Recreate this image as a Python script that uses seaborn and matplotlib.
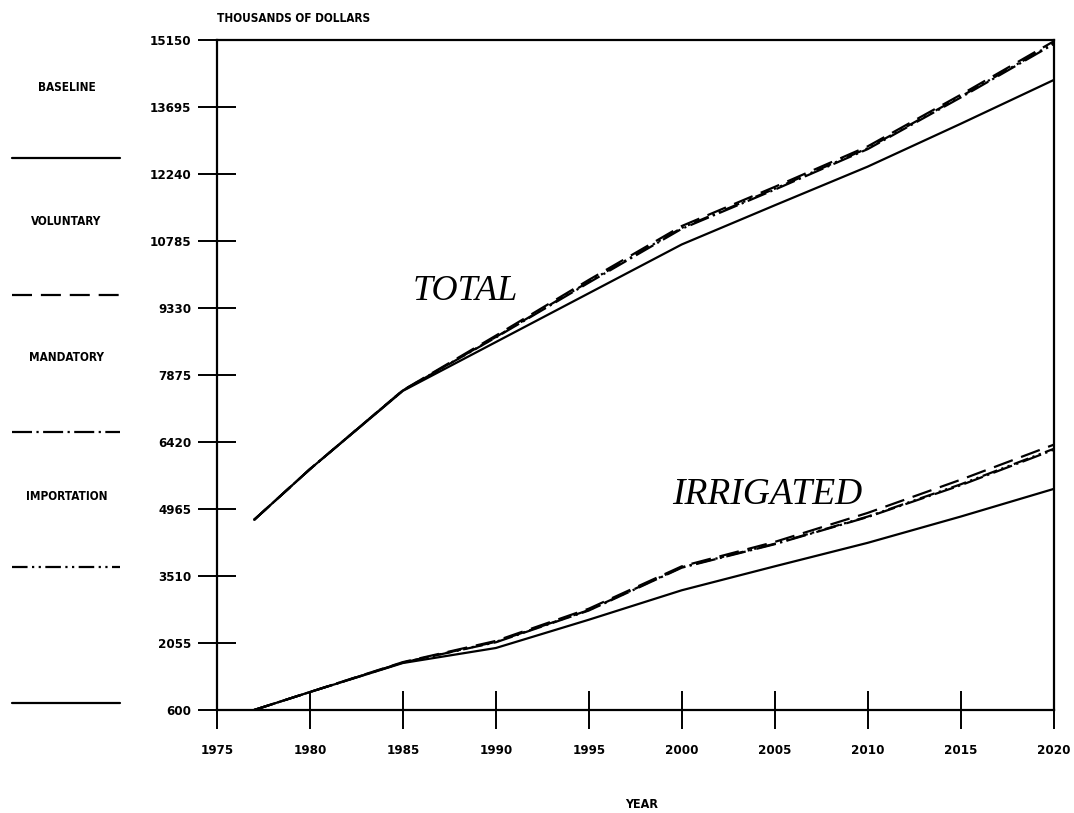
import numpy as np
import pandas as pd
import matplotlib
matplotlib.use("Agg")
import matplotlib.pyplot as plt
import seaborn as sns
from matplotlib.lines import Line2D

# ----------------------------------------------------------
#   data (thousands of dollars)
# ----------------------------------------------------------
years = [1977, 1980, 1985, 1990, 1995, 2000, 2005, 2010, 2015, 2020]

total_baseline = [4730, 5830, 7530, 8590, 9650, 10710, 11560, 12400, 13330, 14280]
total_voluntary = [4730, 5830, 7545, 8730, 9940, 11110, 11960, 12840, 13960, 15120]
total_mandatory = [4730, 5830, 7540, 8690, 9880, 11050, 11900, 12780, 13900, 15060]
total_importation = [4730, 5830, 7540, 8700, 9900, 11070, 11920, 12800, 13920, 15080]

irr_baseline = [600, 990, 1620, 1946, 2560, 3200, 3720, 4230, 4800, 5400]
irr_voluntary = [600, 990, 1640, 2100, 2800, 3720, 4250, 4880, 5600, 6360]
irr_mandatory = [600, 990, 1630, 2070, 2760, 3690, 4200, 4790, 5480, 6250]
irr_importation = [600, 990, 1630, 2080, 2770, 3700, 4210, 4800, 5500, 6270]

scenarios = ["BASELINE", "VOLUNTARY", "MANDATORY", "IMPORTATION"]
y_ticks = [600, 2055, 3510, 4965, 6420, 7875, 9330, 10785, 12240, 13695, 15150]
x_ticks = [1975, 1980, 1985, 1990, 1995, 2000, 2005, 2010, 2015, 2020]

dash_styles = {
    "BASELINE": "",
    "VOLUNTARY": (9, 4),
    "MANDATORY": (9, 2, 1, 2),
    "IMPORTATION": (7, 2, 1, 2, 1, 2),
}

# ----------------------------------------------------------
#   long table for seaborn
# ----------------------------------------------------------
series = {
    ("TOTAL", "BASELINE"): total_baseline,
    ("TOTAL", "VOLUNTARY"): total_voluntary,
    ("TOTAL", "MANDATORY"): total_mandatory,
    ("TOTAL", "IMPORTATION"): total_importation,
    ("IRRIGATED", "BASELINE"): irr_baseline,
    ("IRRIGATED", "VOLUNTARY"): irr_voluntary,
    ("IRRIGATED", "MANDATORY"): irr_mandatory,
    ("IRRIGATED", "IMPORTATION"): irr_importation,
}
rows = []
for (group, scen), vals in series.items():
    for yr, v in zip(years, vals):
        rows.append({"year": yr, "value": v, "scenario": scen, "group": group})
df = pd.DataFrame(rows)

sns.set_style("white")
plt.rcParams["text.color"] = "black"
label_kw = dict(family="DejaVu Sans", fontstretch="condensed",
                fontweight="bold", color="black")

fig = plt.figure(figsize=(10.74, 8.13), dpi=100)
ax = fig.add_axes([0.202, 0.1267, 0.779, 0.8241])

sns.lineplot(
    data=df, x="year", y="value", style="scenario", units="group",
    estimator=None, color="black", dashes=dash_styles,
    style_order=scenarios, linewidth=1.6, legend=False, ax=ax,
)

ax.set_xlim(1975, 2020)
ax.set_ylim(600, 15150)
ax.set_xticks(x_ticks)
ax.set_yticks(y_ticks)
ax.set_xticklabels([str(t) for t in x_ticks], fontsize=9.5, **label_kw)
ax.set_yticklabels([str(t) for t in y_ticks], fontsize=9.5, **label_kw)
ax.tick_params(axis="both", direction="inout", length=27, width=1.4,
               color="black", bottom=True, left=True)
ax.tick_params(axis="y", pad=5)
ax.tick_params(axis="x", pad=11)
ax.set_xlabel("")
ax.set_ylabel("")
for sp in ax.spines.values():
    sp.set_color("black")
    sp.set_linewidth(1.6)

# group labels
ax.text(1985.5, 9680, "TOTAL", family="Liberation Serif", style="italic",
        fontsize=26, color="black", ha="left", va="center")
ax.text(1999.5, 5270, "IRRIGATED", family="Liberation Serif", style="italic",
        fontsize=27, color="black", ha="left", va="center")

# axis titles
fig.text(0.202, 0.977, "THOUSANDS OF DOLLARS", fontsize=8.5, ha="left",
         va="center", **label_kw)
fig.text(0.597, 0.01, "YEAR", fontsize=9, ha="center", va="center",
         **label_kw)

# legend column on the left
label_y = [0.892, 0.727, 0.560, 0.389]
line_y = [0.806, 0.637, 0.469, 0.303]
for scen, ly, yy in zip(scenarios, label_y, line_y):
    fig.text(0.062, ly, scen, fontsize=8.5, ha="center", va="center",
             **label_kw)
    ln = Line2D([0.011, 0.112], [yy, yy], transform=fig.transFigure,
                color="black", linewidth=1.6)
    if dash_styles[scen]:
        ln.set_dashes(dash_styles[scen])
    fig.add_artist(ln)
fig.add_artist(Line2D([0.011, 0.112], [0.135, 0.135],
                      transform=fig.transFigure, color="black", linewidth=1.6))

fig.savefig("out.png", dpi=100)
